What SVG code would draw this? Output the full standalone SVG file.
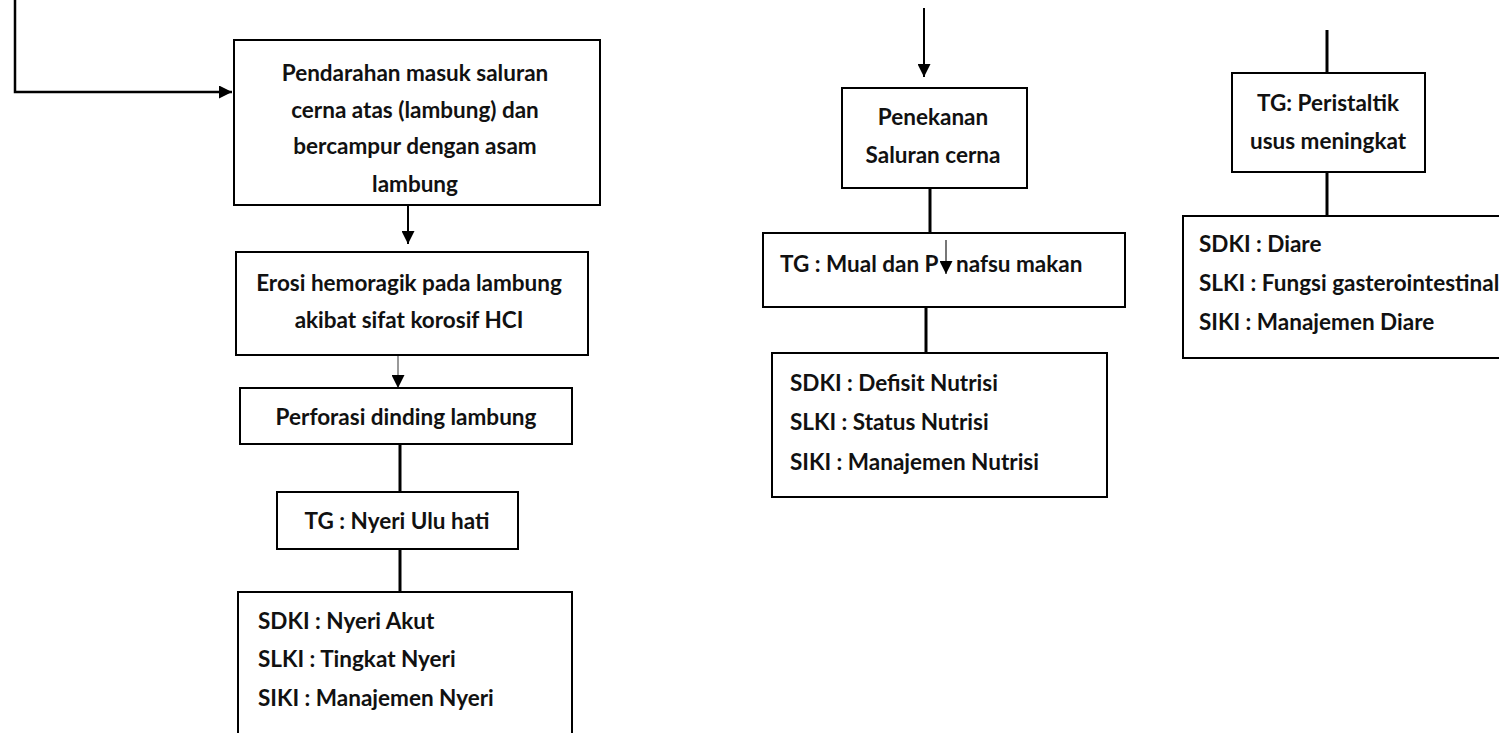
<svg xmlns="http://www.w3.org/2000/svg" width="1499" height="733" viewBox="0 0 1499 733">
  <defs>
    <marker id="arrow" viewBox="0 0 10 10" refX="10" refY="5" markerWidth="13" markerHeight="13" markerUnits="userSpaceOnUse" orient="auto">
      <path d="M0,0 L10,5 L0,10 Z" fill="#000"/>
    </marker>
    <style>
      .box { fill: #fff; stroke: #000; stroke-width: 2; }
      .line { fill: none; stroke: #000; stroke-width: 2; }
      .thick { fill: none; stroke: #000; stroke-width: 3; }
      text { font-family: Lato, "Liberation Sans", sans-serif; font-size: 22.5px; font-weight: bold; fill: #111; }
      .c { text-anchor: middle; }
    </style>
  </defs>

  <rect width="1499" height="733" fill="#fff"/>

  <!-- connectors -->
  <g id="connectors">
    <polyline points="15,0 15,92 232,92" fill="none" stroke="#000" stroke-width="2.5" marker-end="url(#arrow)"/>
    <line class="line" x1="408" y1="206" x2="408" y2="244" marker-end="url(#arrow)"/>
    <line x1="398" y1="356" x2="398" y2="388" stroke="#999" stroke-width="2" marker-end="url(#arrow)"/>
    <line class="thick" x1="400" y1="444" x2="400" y2="492"/>
    <line class="thick" x1="400" y1="549" x2="400" y2="592"/>
    <line class="line" x1="924" y1="8" x2="924" y2="77" marker-end="url(#arrow)"/>
    <line class="thick" x1="930" y1="188" x2="930" y2="233"/>
    <line class="thick" x1="926" y1="307" x2="926" y2="353"/>
    <line class="thick" x1="1327" y1="30" x2="1327" y2="73"/>
    <line class="thick" x1="1327" y1="172" x2="1327" y2="216"/>
  </g>

  <g id="pendarahan">
    <rect class="box" x="234" y="40" width="366" height="165"/>
    <text class="c" x="415" y="81">Pendarahan masuk saluran</text>
    <text class="c" x="415" y="118">cerna atas (lambung) dan</text>
    <text class="c" x="415" y="154">bercampur dengan asam</text>
    <text class="c" x="415" y="192">lambung</text>
  </g>

  <g id="erosi">
    <rect class="box" x="236" y="252" width="352" height="103"/>
    <text class="c" x="409" y="291">Erosi hemoragik pada lambung</text>
    <text class="c" x="409" y="328">akibat sifat korosif HCI</text>
  </g>

  <g id="perforasi">
    <rect class="box" x="240" y="388" width="332" height="56"/>
    <text class="c" x="406" y="425">Perforasi dinding lambung</text>
  </g>

  <g id="nyeri-ulu-hati">
    <rect class="box" x="277" y="492" width="241" height="57"/>
    <text class="c" x="397" y="529">TG : Nyeri Ulu hati</text>
  </g>

  <g id="diagnosa-nyeri">
    <rect class="box" x="238" y="592" width="334" height="150"/>
    <text x="258" y="629">SDKI : Nyeri Akut</text>
    <text x="258" y="667">SLKI : Tingkat Nyeri</text>
    <text x="258" y="706">SIKI : Manajemen Nyeri</text>
  </g>

  <g id="penekanan">
    <rect class="box" x="842" y="88" width="185" height="100"/>
    <text class="c" x="933" y="125">Penekanan</text>
    <text class="c" x="933" y="163">Saluran cerna</text>
  </g>

  <g id="mual">
    <rect class="box" x="763" y="233" width="362" height="74"/>
    <text x="780" y="272">TG : Mual dan P</text>
    <text x="956" y="272">nafsu makan</text>
    <line x1="946" y1="240" x2="946" y2="274" stroke="#777" stroke-width="2" marker-end="url(#arrow)"/>
  </g>

  <g id="diagnosa-nutrisi">
    <rect class="box" x="772" y="353" width="335" height="144"/>
    <text x="790" y="391">SDKI : Defisit Nutrisi</text>
    <text x="790" y="430">SLKI : Status Nutrisi</text>
    <text x="790" y="470">SIKI :  Manajemen Nutrisi</text>
  </g>

  <g id="peristaltik">
    <rect class="box" x="1232" y="73" width="193" height="99"/>
    <text class="c" x="1328" y="111">TG: Peristaltik</text>
    <text class="c" x="1328" y="149">usus meningkat</text>
  </g>

  <g id="diagnosa-diare">
    <rect class="box" x="1183" y="216" width="330" height="142"/>
    <text x="1199" y="252">SDKI : Diare</text>
    <text x="1199" y="291">SLKI : Fungsi gasterointestinal</text>
    <text x="1199" y="330">SIKI :  Manajemen Diare</text>
  </g>
</svg>
